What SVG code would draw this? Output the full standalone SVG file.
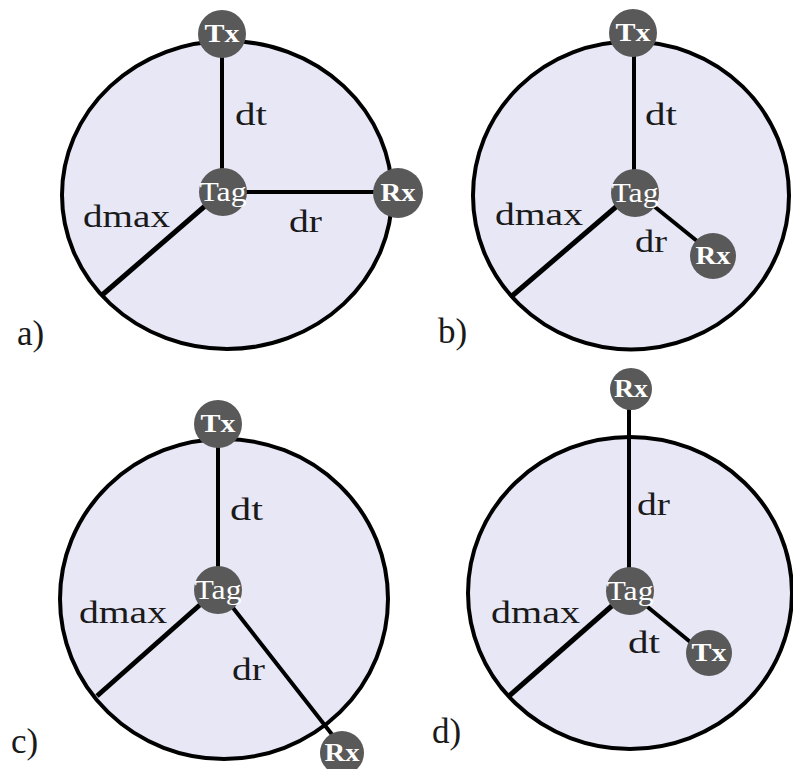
<svg xmlns="http://www.w3.org/2000/svg" width="793" height="769" viewBox="0 0 793 769">
<style>
.area{fill:#e7e7f6;stroke:#000;stroke-width:4}
.ln{stroke:#000;stroke-width:4;stroke-linecap:butt}
.dm{stroke:#000;stroke-width:5}
.nd{fill:#595959}
.nl{fill:#fff;font-family:"Liberation Serif",serif;font-size:25px;font-weight:bold;text-anchor:middle}
.tg{fill:#fff;font-family:"Liberation Serif",serif;font-size:27px;text-anchor:middle}
.lb{fill:#1a1a1a;font-family:"Liberation Serif",serif;font-size:31px}
.pl{fill:#1a1a1a;font-family:"Liberation Serif",serif;font-size:35px}
</style>
<rect width="793" height="769" fill="#fff"/>
<g id="areas">
<ellipse class="area" cx="227" cy="195" rx="165" ry="154"/>
<ellipse class="area" cx="631" cy="195.5" rx="158" ry="154"/>
<ellipse class="area" cx="224" cy="599" rx="164" ry="160"/>
<ellipse class="area" cx="630" cy="593" rx="162" ry="156"/>
</g>
<g id="connectors">
<line class="ln" x1="222" y1="50" x2="222" y2="175"/>
<line class="ln" x1="240" y1="192" x2="378" y2="192"/>
<line class="dm" x1="205" y1="206" x2="101" y2="296"/>
<line class="ln" x1="634" y1="50" x2="634" y2="175"/>
<line class="ln" x1="650" y1="203" x2="697" y2="241"/>
<line class="dm" x1="617" y1="206" x2="512" y2="296"/>
<line class="ln" x1="218" y1="440" x2="218" y2="570"/>
<line class="ln" x1="230" y1="604" x2="334" y2="737"/>
<line class="dm" x1="202" y1="603" x2="97" y2="696"/>
<line class="ln" x1="629" y1="400" x2="629" y2="570"/>
<line class="ln" x1="644" y1="604" x2="694" y2="645"/>
<line class="dm" x1="614" y1="604" x2="509" y2="696"/>
</g>
<g id="node-a-tx"><circle class="nd" cx="222" cy="34" r="24"/><text class="nl" x="222" y="42" textLength="35" lengthAdjust="spacingAndGlyphs">Tx</text></g>
<g id="node-a-tag"><circle class="nd" cx="223" cy="192" r="24"/><text class="tg" x="223" y="201" textLength="47" lengthAdjust="spacingAndGlyphs">Tag</text></g>
<g id="node-a-rx"><circle class="nd" cx="398" cy="193" r="25"/><text class="nl" x="398" y="201" textLength="35" lengthAdjust="spacingAndGlyphs">Rx</text></g>
<g id="node-b-tx"><circle class="nd" cx="633" cy="33" r="24"/><text class="nl" x="633" y="41" textLength="35" lengthAdjust="spacingAndGlyphs">Tx</text></g>
<g id="node-b-tag"><circle class="nd" cx="635" cy="193" r="24"/><text class="tg" x="635" y="202" textLength="47" lengthAdjust="spacingAndGlyphs">Tag</text></g>
<g id="node-b-rx"><circle class="nd" cx="713" cy="256" r="23"/><text class="nl" x="713" y="264" textLength="35" lengthAdjust="spacingAndGlyphs">Rx</text></g>
<g id="node-c-tx"><circle class="nd" cx="218" cy="424" r="24"/><text class="nl" x="218" y="432" textLength="35" lengthAdjust="spacingAndGlyphs">Tx</text></g>
<g id="node-c-tag"><circle class="nd" cx="218" cy="590" r="24"/><text class="tg" x="218" y="599" textLength="47" lengthAdjust="spacingAndGlyphs">Tag</text></g>
<g id="node-c-rx"><circle class="nd" cx="342" cy="753" r="22"/><text class="nl" x="342" y="761" textLength="35" lengthAdjust="spacingAndGlyphs">Rx</text></g>
<g id="node-d-rx"><circle class="nd" cx="631" cy="389" r="21"/><text class="nl" x="631" y="397" font-size="22" textLength="34" lengthAdjust="spacingAndGlyphs">Rx</text></g>
<g id="node-d-tag"><circle class="nd" cx="630" cy="591" r="24"/><text class="tg" x="630" y="600" textLength="47" lengthAdjust="spacingAndGlyphs">Tag</text></g>
<g id="node-d-tx"><circle class="nd" cx="709" cy="653" r="23"/><text class="nl" x="709" y="661" textLength="35" lengthAdjust="spacingAndGlyphs">Tx</text></g>
<g id="labels">
<text class="lb" x="235" y="125" textLength="32" lengthAdjust="spacingAndGlyphs">dt</text>
<text class="lb" x="83" y="227" textLength="87" lengthAdjust="spacingAndGlyphs">dmax</text>
<text class="lb" x="289" y="232" textLength="33" lengthAdjust="spacingAndGlyphs">dr</text>
<text class="pl" x="17" y="345">a)</text>
<text class="pl" x="438" y="343">b)</text>
<text class="lb" x="645" y="125" textLength="32" lengthAdjust="spacingAndGlyphs">dt</text>
<text class="lb" x="495" y="225" textLength="88" lengthAdjust="spacingAndGlyphs">dmax</text>
<text class="lb" x="635" y="252" textLength="32" lengthAdjust="spacingAndGlyphs">dr</text>
<text class="lb" x="230" y="520" textLength="33" lengthAdjust="spacingAndGlyphs">dt</text>
<text class="lb" x="79" y="623" textLength="88" lengthAdjust="spacingAndGlyphs">dmax</text>
<text class="lb" x="232" y="680" textLength="33" lengthAdjust="spacingAndGlyphs">dr</text>
<text class="pl" x="11" y="753">c)</text>
<text class="lb" x="637" y="515" textLength="33" lengthAdjust="spacingAndGlyphs">dr</text>
<text class="lb" x="491" y="623" textLength="89" lengthAdjust="spacingAndGlyphs">dmax</text>
<text class="lb" x="628" y="653" textLength="32" lengthAdjust="spacingAndGlyphs">dt</text>
<text class="pl" x="432" y="743">d)</text>
</g>
</svg>
